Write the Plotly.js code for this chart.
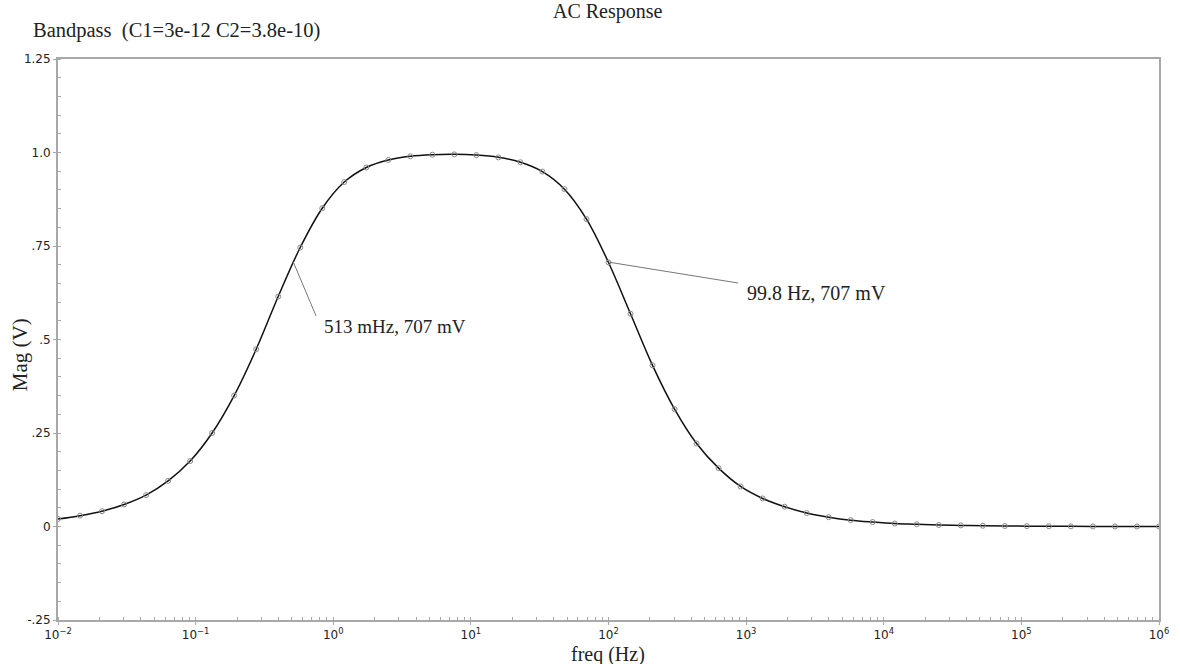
<!DOCTYPE html>
<html>
<head>
<meta charset="utf-8">
<script src="https://cdn.plot.ly/plotly-3.0.1.min.js"></script>
<style>html,body{margin:0;padding:0;background:#fff;}#chart{width:1180px;height:664px;}</style>
</head>
<body>
<div id="chart"></div>
<script>
// Frequencies (Hz) of the simulation points
const freqHz = [0.01, 0.01445, 0.02089, 0.0302, 0.04365, 0.0631, 0.0912, 0.1318, 0.1905, 0.2754,
  0.3981, 0.5754, 0.8318, 1.202, 1.738, 2.512, 3.631, 5.248, 7.586, 10.96,
  15.85, 22.91, 33.11, 47.86, 69.18, 100, 144.5, 208.9, 302, 436.5,
  631, 912, 1318, 1905, 2754, 3981, 5754, 8318, 12023, 17378,
  25119, 36308, 52481, 75858, 109648, 158489, 229087, 331131, 478630, 691831, 1000000];
// Magnitude (V)
const magV = [0.020, 0.029, 0.041, 0.059, 0.084, 0.122, 0.175, 0.250, 0.350, 0.474,
  0.615, 0.746, 0.851, 0.921, 0.960, 0.980, 0.990, 0.994, 0.995, 0.993,
  0.987, 0.974, 0.949, 0.902, 0.822, 0.706, 0.569, 0.431, 0.314, 0.222,
  0.156, 0.107, 0.075, 0.053, 0.036, 0.025, 0.017, 0.012, 0.008, 0.006,
  0.004, 0.003, 0.002, 0.0013, 0.001, 0.0006, 0.0004, 0.0003, 0.0002, 0.0001, 0.0001];

const xTickVals = [0.01, 0.1, 1, 10, 100, 1000, 10000, 100000, 1000000];
const xTickText = ['10<sup>\u22122</sup>', '10<sup>\u22121</sup>', '10<sup>0</sup>', '10<sup>1</sup>',
  '10<sup>2</sup>', '10<sup>3</sup>', '10<sup>4</sup>', '10<sup>5</sup>', '10<sup>6</sup>'];
const yTickVals = [-0.25, 0, 0.25, 0.5, 0.75, 1.0, 1.25];
const yTickText = ['-.25', '0', '.25', '.5', '.75', '1.0', '1.25'];

// Cursor markers (frequency Hz, magnitude V) and their labels
const cursorFreq = [0.513, 99.8];
const cursorMag = [0.707, 0.707];
const cursorText = ['513 mHz, 707 mV', '99.8 Hz, 707 mV'];
// leader-line ends and label positions (freq, mag)
const leaderEndFreq = [0.75, 875];
const leaderEndMag = [0.563, 0.651];
const labelFreq = [0.83, 985];
const labelMag = [0.536, 0.624];

const serif = '"Liberation Serif", "Times New Roman", serif';
const sans = '"DejaVu Sans", Verdana, sans-serif';
const axisGray = '#a8a8a8';

const traces = [{
  x: freqHz, y: magV, type: 'scatter', mode: 'lines+markers',
  line: {color: '#111', width: 1.5, shape: 'spline', smoothing: 1},
  marker: {symbol: 'circle-open', size: 5, color: '#888', line: {width: 1, color: '#888'}},
  hoverinfo: 'x+y', showlegend: false
}];

const shapes = cursorFreq.map((f, i) => ({
  type: 'line', xref: 'x', yref: 'y',
  x0: f, y0: cursorMag[i], x1: leaderEndFreq[i], y1: leaderEndMag[i],
  line: {color: '#777', width: 1}
}));

const annotations = cursorText.map((t, i) => ({
  text: t, xref: 'x', yref: 'y', x: Math.log10(labelFreq[i]), y: labelMag[i],
  xanchor: 'left', yanchor: 'middle', showarrow: false,
  font: {family: serif, size: i === 0 ? 19 : 20, color: '#222'}
}));
annotations.push(
  {text: 'Bandpass  (C1=3e-12 C2=3.8e-10)', xref: 'paper', yref: 'paper', x: -0.0245, y: 1.05,
   xanchor: 'left', yanchor: 'middle', showarrow: false, font: {family: serif, size: 20.5, color: '#222'}},
  {text: 'AC Response', xref: 'paper', yref: 'paper', x: 0.4995, y: 1.084,
   xanchor: 'center', yanchor: 'middle', showarrow: false, font: {family: serif, size: 20, color: '#222'}},
  {text: 'Mag (V)', xref: 'paper', yref: 'paper', x: -0.0345, y: 0.472, textangle: -90,
   xanchor: 'center', yanchor: 'middle', showarrow: false, font: {family: serif, size: 21, color: '#222'}},
  {text: 'freq (Hz)', xref: 'paper', yref: 'paper', x: 0.4995, y: -0.062,
   xanchor: 'center', yanchor: 'middle', showarrow: false, font: {family: serif, size: 20, color: '#222'}}
);

const layout = {
  width: 1180, height: 664,
  margin: {l: 58, r: 21, t: 59, b: 44, pad: 0},
  paper_bgcolor: '#fff', plot_bgcolor: '#fff',
  showlegend: false,
  xaxis: {
    type: 'log', range: [-2, 6], tickmode: 'array', tickvals: xTickVals, ticktext: xTickText,
    showgrid: false, zeroline: false,
    showline: true, linecolor: axisGray, linewidth: 2, mirror: true,
    ticks: 'outside', ticklen: 3, tickcolor: axisGray, tickwidth: 1,
    tickfont: {family: sans, size: 12, color: '#222'},
    minor: {dtick: 'D1', ticks: 'inside', ticklen: 3, tickcolor: axisGray, showgrid: false}
  },
  yaxis: {
    range: [-0.25, 1.25], tickmode: 'array', tickvals: yTickVals, ticktext: yTickText,
    showgrid: false, zeroline: false,
    showline: true, linecolor: axisGray, linewidth: 2, mirror: true,
    ticks: 'outside', ticklen: 3, tickcolor: axisGray, tickwidth: 1,
    tickfont: {family: sans, size: 12, color: '#222'},
    minor: {dtick: 0.05, tick0: 0, ticks: 'inside', ticklen: 3, tickcolor: axisGray, showgrid: false}
  },
  shapes: shapes,
  annotations: annotations
};

Plotly.newPlot('chart', traces, layout, {displayModeBar: false, staticPlot: true});
</script>
</body>
</html>
